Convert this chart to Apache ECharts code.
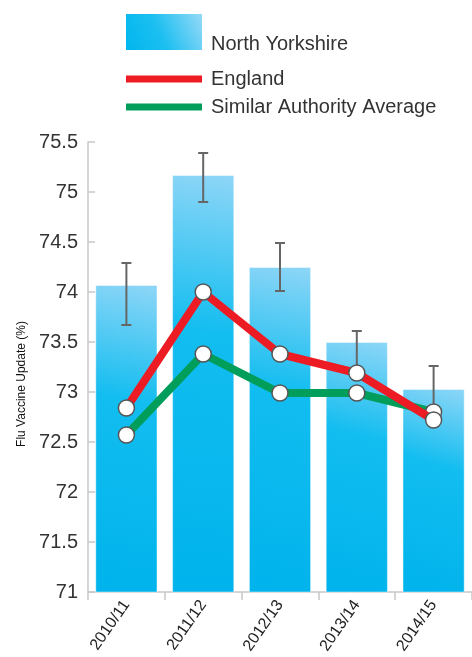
<!DOCTYPE html>
<html><head><meta charset="utf-8">
<script src="https://cdn.jsdelivr.net/npm/echarts@6/dist/echarts.min.js"></script>
<style>html,body{margin:0;padding:0;background:#fff}#c{width:472px;height:657px}</style>
</head><body><div id="c"></div>
<script>
const categories = ['2010/11','2011/12','2012/13','2013/14','2014/15'];
const northYorkshire = [74.07, 75.17, 74.25, 73.50, 73.03];
const nyLower = [73.67, 74.90, 74.01, 73.22, 72.80];
const nyUpper = [74.29, 75.39, 74.49, 73.61, 73.26];
const england = [72.84, 74.00, 73.38, 73.19, 72.72];
const similarAuthority = [72.57, 73.38, 72.99, 72.99, 72.80];
const yTicks = {min: 71, max: 75.5, interval: 0.5};

const FONT = 'Liberation Sans, Arial, sans-serif';
const RED = '#ed1c24', GREEN = '#009e5a';
const barGrad = new echarts.graphic.LinearGradient(1, 0, 0, 1, [
  {offset: 0, color: '#8ed6f7'},
  {offset: 0.38, color: '#12bdf0'},
  {offset: 1, color: '#00b3ec'}
]);
const legendGrad = new echarts.graphic.LinearGradient(0, 1, 1, 0, [
  {offset: 0, color: '#00b6ee'},
  {offset: 0.45, color: '#1cbff0'},
  {offset: 1, color: '#95d9f7'}
]);

const chart = echarts.init(document.getElementById('c'), null, {renderer: 'canvas'});
chart.setOption({
  animation: false,
  backgroundColor: '#fff',
  grid: {left: 88, top: 142, width: 386, bottom: 65, containLabel: false},
  legend: [
    {data: [{name: 'North Yorkshire', icon: 'rect', itemStyle: {color: legendGrad, borderWidth: 0}}],
     left: 126, top: 7, padding: 0, itemWidth: 76, itemHeight: 36, selectedMode: false,
     formatter: n => '\n' + n,
     textStyle: {fontFamily: FONT, fontSize: 20, lineHeight: 25, color: '#333', padding: [0, 0, 0, 4]}},
    {data: [{name: 'England', icon: 'rect', itemStyle: {color: RED, borderWidth: 0}}],
     left: 126, top: 69, padding: 0, itemWidth: 76, itemHeight: 7, selectedMode: false,
     textStyle: {fontFamily: FONT, fontSize: 20, color: '#333', padding: [0, 0, 0, 4]}},
    {data: [{name: 'Similar Authority Average', icon: 'rect', itemStyle: {color: GREEN, borderWidth: 0}}],
     left: 126, top: 97, padding: 0, itemWidth: 76, itemHeight: 7, selectedMode: false,
     textStyle: {fontFamily: FONT, fontSize: 20, color: '#333', padding: [0, 0, 0, 4]}}
  ],
  graphic: [{
    type: 'text', x: 22, y: 384, rotation: Math.PI / 2,
    style: {text: 'Flu Vaccine Update (%)', font: '500 12px ' + FONT, fill: '#111',
            textAlign: 'center', textVerticalAlign: 'middle'}
  }],
  xAxis: {
    type: 'category', data: categories, boundaryGap: true,
    axisLine: {lineStyle: {color: '#c8c8c8', width: 1.5}},
    axisTick: {show: true, length: 8, lineStyle: {color: '#c8c8c8', width: 1.5}},
    axisLabel: {rotate: 55, fontFamily: FONT, fontSize: 16, color: '#222', margin: 10, interval: 0}
  },
  yAxis: {
    type: 'value', min: yTicks.min, max: yTicks.max, interval: yTicks.interval,
    splitLine: {show: false},
    axisLine: {show: true, lineStyle: {color: '#c8c8c8', width: 1.5}},
    axisTick: {show: true, inside: true, length: 7, lineStyle: {color: '#c8c8c8', width: 1.5}},
    axisLabel: {fontFamily: FONT, fontSize: 20, color: '#333', margin: 10}
  },
  series: [
    {name: 'North Yorkshire', type: 'bar', data: northYorkshire, barCategoryGap: '19%',
     itemStyle: {color: barGrad, borderColor: 'rgba(255,255,255,0.45)', borderWidth: 1}, z: 1},
    {name: 'errors', type: 'custom', z: 3,
     data: categories.map((c, i) => [i, nyLower[i], nyUpper[i]]),
     renderItem: function (params, api) {
       const lo = api.coord([api.value(0), api.value(1)]);
       const hi = api.coord([api.value(0), api.value(2)]);
       const w = 5;
       const st = {stroke: '#666', lineWidth: 2};
       return {type: 'group', children: [
         {type: 'line', shape: {x1: hi[0], y1: hi[1], x2: lo[0], y2: lo[1]}, style: st},
         {type: 'line', shape: {x1: hi[0] - w, y1: hi[1], x2: hi[0] + w, y2: hi[1]}, style: st},
         {type: 'line', shape: {x1: lo[0] - w, y1: lo[1], x2: lo[0] + w, y2: lo[1]}, style: st}
       ]};
     }},
    {name: 'Similar Authority Average', type: 'line', data: similarAuthority, z: 4,
     color: GREEN, lineStyle: {color: GREEN, width: 8},
     symbol: 'circle', symbolSize: 16, showAllSymbol: true,
     itemStyle: {color: '#fff', borderColor: '#555', borderWidth: 1.5}},
    {name: 'England', type: 'line', data: england, z: 5,
     color: RED, lineStyle: {color: RED, width: 8},
     symbol: 'circle', symbolSize: 16, showAllSymbol: true,
     itemStyle: {color: '#fff', borderColor: '#555', borderWidth: 1.5}}
  ]
});
</script></body></html>
